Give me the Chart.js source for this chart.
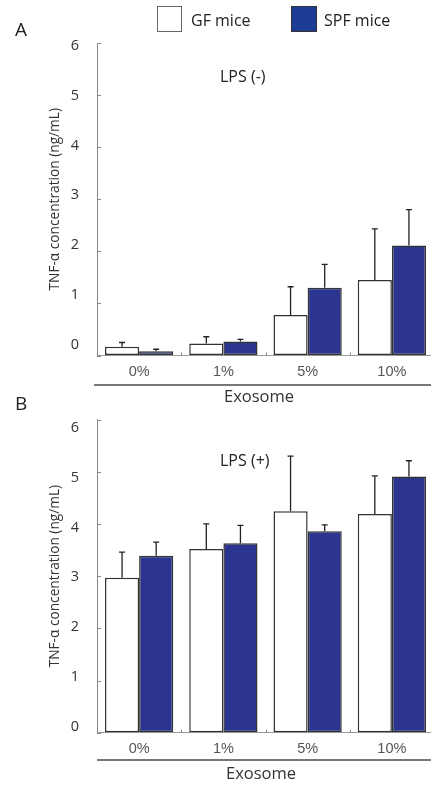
<!DOCTYPE html>
<html><head><meta charset="utf-8">
<script src="https://cdn.jsdelivr.net/npm/chart.js@4/dist/chart.umd.min.js"></script>
<style>
html,body{margin:0;padding:0;background:#fff;}
#wrap{position:relative;width:431px;height:785px;overflow:hidden;background:#fff;font-family:'Open Sans',sans-serif;}
canvas{position:absolute;left:0;}
.t{position:absolute;white-space:nowrap;color:#222;line-height:1;}
.ln{position:absolute;height:2px;background:#777;}
</style></head><body>
<div id="wrap">
<canvas id="cA" width="434" height="400" style="top:0;width:434px;height:400px"></canvas>
<canvas id="cB" width="434" height="405" style="top:380px;width:434px;height:405px"></canvas>
<div class="t" style="left:15px;top:20px;font-size:19px">A</div>
<div class="t" style="left:15px;top:394px;font-size:19px">B</div>
<div style="position:absolute;left:157px;top:6px;width:25px;height:26px;box-sizing:border-box;border:1.5px solid #666;background:#fff"></div>
<div class="t" style="left:191px;top:12px;font-size:16px">GF mice</div>
<div style="position:absolute;left:291px;top:6px;width:26px;height:26px;box-sizing:border-box;border:1.5px solid #333;background:#1d3c96"></div>
<div class="t" style="left:324px;top:12px;font-size:16px">SPF mice</div>
<div class="t" style="left:220px;top:68px;font-size:16px">LPS (-)</div>
<div class="t" style="left:220px;top:452px;font-size:16px">LPS (+)</div>
<div class="ln" style="left:94px;top:383.5px;width:340px"></div>
<div class="ln" style="left:97px;top:758.5px;width:340px"></div>
<div class="t" style="left:159px;width:200px;text-align:center;top:388px;font-size:16.5px;color:#333">Exosome</div>
<div class="t" style="left:161px;width:200px;text-align:center;top:765px;font-size:16.5px;color:#333">Exosome</div>
</div>
<script>
const categories = ['0%', '1%', '5%', '10%'];
const yTicks = [0, 1, 2, 3, 4, 5, 6];
const yTickLabels = ['0', '1', '2', '3', '4', '5', '6'];

// Panel A: LPS (-)
const gfA = [0.17, 0.23, 0.78, 1.45];
const gfSdA = [0.08, 0.13, 0.54, 0.98];
const spfA = [0.08, 0.27, 1.30, 2.11];
const spfSdA = [0.04, 0.04, 0.45, 0.69];

// Panel B: LPS (+)
const gfB = [2.97, 3.52, 4.24, 4.19];
const gfSdB = [0.49, 0.48, 1.06, 0.73];
const spfB = [3.39, 3.63, 3.86, 4.91];
const spfSdB = [0.26, 0.34, 0.12, 0.30];

const errPlugin = {
  id: 'errbars',
  afterDatasetsDraw(chart) {
    const ctx = chart.ctx, y = chart.scales.y, x = chart.scales.x, ca = chart.chartArea;
    ctx.save();
    ctx.strokeStyle = '#222'; ctx.lineWidth = 1.3;
    chart.data.datasets.forEach((ds, d) => {
      const meta = chart.getDatasetMeta(d);
      meta.data.forEach((bar, i) => {
        const top = y.getPixelForValue(ds.data[i] + ds.errors[i]);
        ctx.beginPath();
        ctx.moveTo(bar.x, bar.y); ctx.lineTo(bar.x, top);
        ctx.moveTo(bar.x - 3, top); ctx.lineTo(bar.x + 3, top);
        ctx.stroke();
      });
    });
    ctx.strokeStyle = '#888'; ctx.lineWidth = 1;
    y.ticks.forEach(t => {
      const py = Math.round(y.getPixelForValue(t.value)) + 0.5;
      ctx.beginPath(); ctx.moveTo(ca.left, py); ctx.lineTo(ca.left + 4, py); ctx.stroke();
    });
    for (let i = 1; i < categories.length; i++) {
      const px = Math.round((x.getPixelForValue(i - 1) + x.getPixelForValue(i)) / 2) + 0.5;
      ctx.beginPath(); ctx.moveTo(px, ca.bottom); ctx.lineTo(px, ca.bottom - 3); ctx.stroke();
    }
    ctx.restore();
  }
};

function makeChart(id, gf, gfSd, spf, spfSd, labMin, labMax, padTop, xHeight) {
  return new Chart(document.getElementById(id), {
    type: 'bar',
    data: {
      labels: categories,
      datasets: [
        { label: 'GF mice', data: gf, errors: gfSd, backgroundColor: '#ffffff', borderColor: '#333', borderWidth: 1.5, borderSkipped: false, categoryPercentage: 0.81, barPercentage: 1 },
        { label: 'SPF mice', data: spf, errors: spfSd, backgroundColor: '#2b358f', borderColor: '#333', borderWidth: 1.5, borderSkipped: false, categoryPercentage: 0.81, barPercentage: 1 }
      ]
    },
    options: {
      responsive: false,
      animation: false,
      devicePixelRatio: 1,
      layout: { padding: { top: padTop, left: 0, right: 0, bottom: 0 } },
      plugins: { legend: { display: false }, tooltip: { enabled: false } },
      scales: {
        x: {
          type: 'category', offset: true,
          grid: { display: true, drawOnChartArea: false, drawTicks: false },
          border: { display: true, color: '#999', width: 1 },
          ticks: { font: { family: 'Liberation Sans', size: 14.5 }, color: '#555', padding: 8 },
          afterFit(s) { s.height = xHeight; }
        },
        y: {
          type: 'linear', position: 'left', weight: 0, min: 0, max: 6,
          ticks: { display: false, stepSize: 1 },
          grid: { display: true, drawOnChartArea: false, drawTicks: false },
          border: { display: true, color: '#888', width: 1 },
          afterFit(s) { s.width = 0; }
        },
        yLab: {
          type: 'linear', position: 'left', weight: 1, min: labMin, max: labMax,
          afterBuildTicks(s) { s.ticks = yTicks.map(v => ({ value: v })); },
          ticks: { font: { family: 'Open Sans', size: 14.5 }, color: '#333', padding: 10, callback: (v, i) => yTickLabels[i] },
          grid: { display: false },
          border: { display: false },
          title: { display: true, text: 'TNF-α concentration (ng/mL)', font: { family: 'Open Sans', size: 13.7 }, color: '#333', padding: { top: 46.8, bottom: 0 } },
          afterFit(s) { s.width = 97; }
        }
      }
    },
    plugins: [errPlugin]
  });
}

makeChart('cA', gfA, gfSdA, spfA, spfSdA, -0.21, 6.054, 43, 44.5);
makeChart('cB', gfB, gfSdB, spfB, spfSdB, -0.12, 6.165, 39.5, 52.3);
</script>
</body></html>
